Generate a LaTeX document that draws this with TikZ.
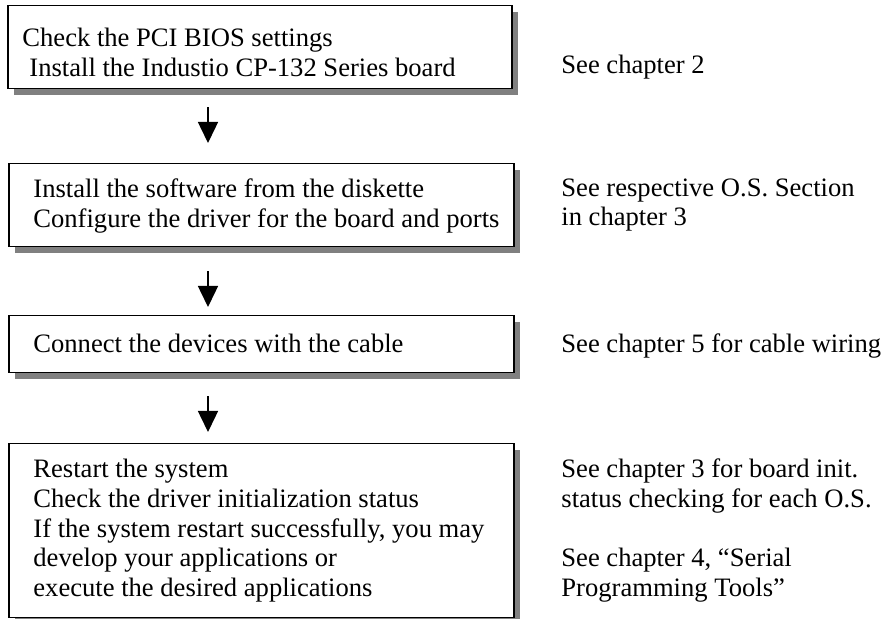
\documentclass[tikz,border=0pt]{standalone}
\usepackage{fontspec}
\setmainfont{Liberation Serif}
\usepackage{tikz}
\usetikzlibrary{arrows.meta,shadows,positioning}

\tikzset{
  stepbox/.style={draw, line width=0.75pt, fill=white, anchor=north west, inner sep=0pt,
    drop shadow={shadow xshift=3pt, shadow yshift=-3pt, fill=black!50, opacity=1}},
  txt/.style={anchor=base west, inner sep=0pt, font=\fontsize{13.3}{15}\selectfont},
  flow/.style={-{Triangle[length=10.5pt,width=10pt]}, line width=0.75pt}
}

\begin{document}
\begin{tikzpicture}[x=0.5pt, y=-0.5pt]
    \useasboundingbox (0,0) rectangle (885,619);

    % boxes
    \node[stepbox, minimum width=252pt, minimum height=41.5pt] (b1) at (7,5) {};
    \node[stepbox, minimum width=252.5pt, minimum height=41.5pt] (b2) at (8,163) {};
    \node[stepbox, minimum width=252.5pt, minimum height=28.5pt] (b3) at (8,315) {};
    \node[stepbox, minimum width=252.5pt, minimum height=87pt] (b4) at (8,443) {};

    % arrows
    \coordinate (ax) at (208,0);
    \draw[flow, shorten <=9pt, shorten >=10pt] (b1.south -| ax) -- (b2.north -| ax);
    \draw[flow, shorten <=12pt, shorten >=4pt] (b2.south -| ax) -- (b3.north -| ax);
    \draw[flow, shorten <=11.5pt, shorten >=5.5pt] (b3.south -| ax) -- (b4.north -| ax);

    % box texts
    \node[txt] (s1a) at (22,47) {Check the PCI BIOS settings};
    \node[txt] (s1b) at (29,77) {Install the Industio CP-132 Series board};
    \node[txt] (s2a) at (33,198) {Install the software from the diskette};
    \node[txt] (s2b) at (33,228) {Configure the driver for the board and ports};
    \node[txt] (s3a) at (33,353) {Connect the devices with the cable};
    \node[txt] (s4a) at (33,478) {Restart the system};
    \node[txt] (s4b) at (33,508) {Check the driver initialization status};
    \node[txt] (s4c) at (33,538) {If the system restart successfully, you may};
    \node[txt] (s4d) at (33,567) {develop your applications or};
    \node[txt] (s4e) at (33,597) {execute the desired applications};

    % references
    \node[txt] (r1) at (561,74) {See chapter 2};
    \node[txt] (r2a) at (561,197) {See respective O.S. Section};
    \node[txt] (r2b) at (561,226) {in chapter 3};
    \node[txt] (r3) at (561,353) {See chapter 5 for cable wiring};
    \node[txt] (r4a) at (561,478) {See chapter 3 for board init.};
    \node[txt] (r4b) at (561,508) {status checking for each O.S.};
    \node[txt] (r4c) at (561,567) {See chapter 4, “Serial};
    \node[txt] (r4d) at (561,597) {Programming Tools”};
\end{tikzpicture}
\end{document}
